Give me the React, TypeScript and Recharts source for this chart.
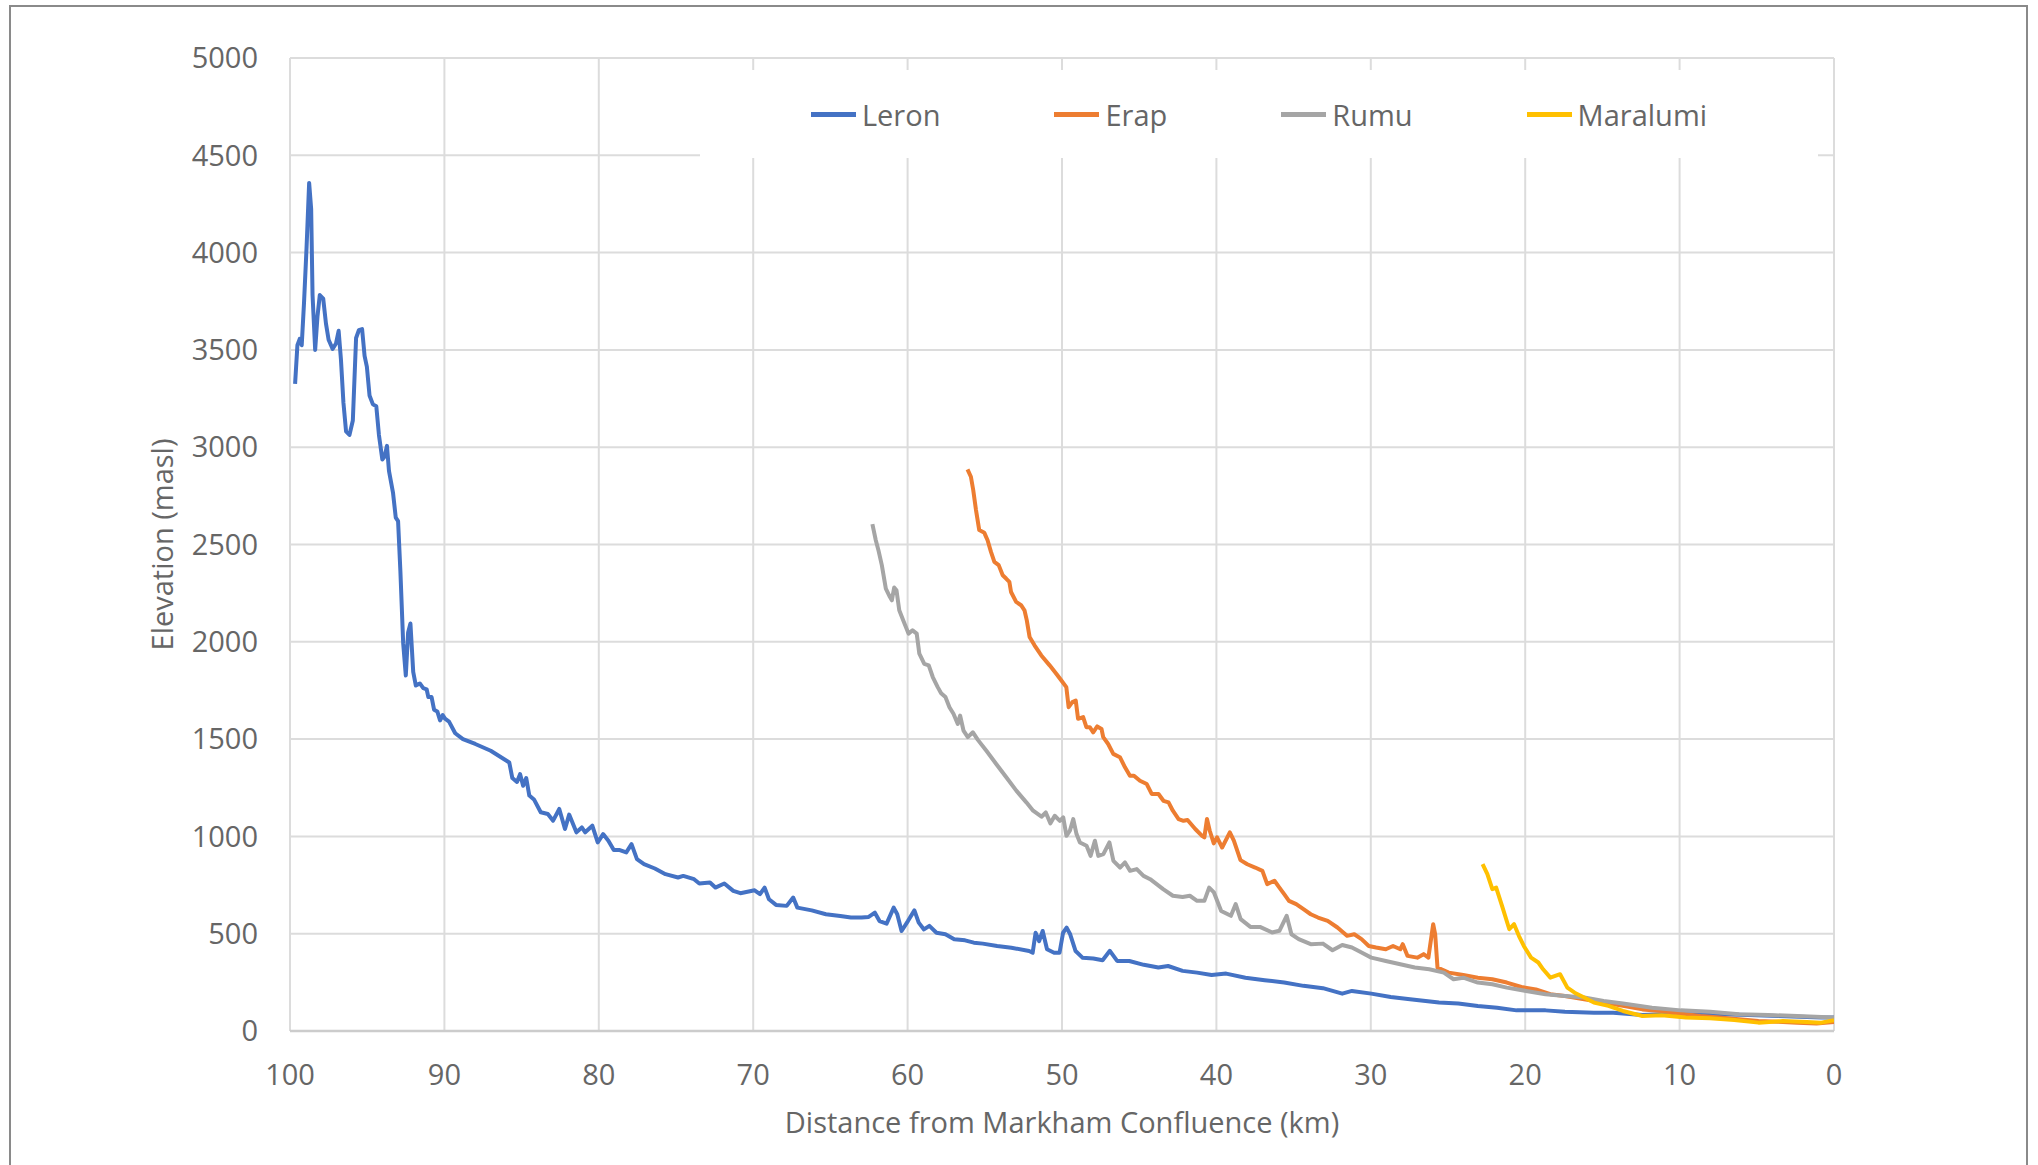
import { LineChart, Line, XAxis, YAxis, CartesianGrid, Legend } from 'recharts';

type Pt = [number, number]; // [km from confluence, elevation m]

const xTicks = [0, 10, 20, 30, 40, 50, 60, 70, 80, 90, 100];
const yTicks = [0, 500, 1000, 1500, 2000, 2500, 3000, 3500, 4000, 4500, 5000];

const seriesNames = ['Leron', 'Erap', 'Rumu', 'Maralumi'];
const seriesColors = ['#4472C4', '#ED7D31', '#A5A5A5', '#FFC000'];

const leron: Pt[] = [
  [99.67, 3325], [99.52, 3524], [99.37, 3557], [99.24, 3524], [99.09, 3745], [98.93, 4022],
  [98.76, 4358], [98.63, 4225], [98.54, 3782], [98.37, 3500], [98.22, 3672], [98.07, 3782],
  [97.85, 3764], [97.67, 3635], [97.5, 3552], [97.24, 3505], [97.02, 3533], [96.85, 3598],
  [96.7, 3450], [96.54, 3229], [96.37, 3081], [96.15, 3063], [95.93, 3137], [95.72, 3561],
  [95.54, 3601], [95.33, 3607], [95.17, 3469], [95.02, 3413], [94.85, 3266], [94.63, 3220],
  [94.41, 3210], [94.24, 3063], [94.02, 2937], [93.87, 2952], [93.72, 3007], [93.59, 2878],
  [93.33, 2767], [93.15, 2638], [93.0, 2620], [92.85, 2362], [92.67, 1993], [92.5, 1827],
  [92.35, 2048], [92.2, 2094], [92.02, 1845], [91.85, 1775], [91.59, 1786], [91.37, 1762],
  [91.15, 1756], [91.04, 1716], [90.83, 1716], [90.67, 1651], [90.46, 1642], [90.28, 1596],
  [90.11, 1623], [89.96, 1605], [89.7, 1590], [89.3, 1530], [88.8, 1500], [88.0, 1475],
  [87.0, 1440], [86.0, 1390], [85.8, 1380], [85.6, 1300], [85.3, 1280], [85.1, 1320],
  [84.9, 1260], [84.7, 1300], [84.5, 1210], [84.2, 1190], [83.76, 1124], [83.3, 1115],
  [82.96, 1081], [82.56, 1141], [82.19, 1038], [81.92, 1112], [81.45, 1021], [81.1, 1046],
  [80.88, 1021], [80.42, 1055], [80.07, 969], [79.72, 1012], [79.38, 978], [79.03, 930],
  [78.64, 930], [78.22, 918], [77.88, 960], [77.53, 883], [77.07, 857], [76.37, 835],
  [75.68, 806], [74.87, 789], [74.53, 797], [73.83, 780], [73.49, 758], [72.8, 763],
  [72.45, 737], [71.87, 758], [71.29, 720], [70.83, 708], [69.91, 723], [69.56, 703],
  [69.26, 737], [68.98, 677], [68.52, 648], [67.83, 643], [67.41, 686], [67.14, 634],
  [66.21, 620], [65.29, 600], [64.36, 591], [63.67, 583], [62.98, 583], [62.52, 586],
  [62.12, 608], [61.82, 565], [61.36, 552], [60.9, 634], [60.67, 600], [60.39, 514],
  [59.98, 565], [59.56, 620], [59.28, 557], [58.94, 522], [58.59, 540], [58.13, 505],
  [57.55, 497], [56.98, 471], [56.28, 466], [55.71, 454], [55.13, 449], [54.2, 437],
  [53.28, 428], [52.13, 411], [51.9, 402], [51.71, 505], [51.48, 462], [51.25, 514],
  [50.97, 420], [50.51, 402], [50.16, 402], [49.93, 505], [49.7, 531], [49.47, 497],
  [49.12, 411], [48.66, 376], [47.97, 373], [47.37, 364], [46.9, 412], [46.43, 360],
  [45.64, 360], [44.7, 340], [43.76, 326], [43.13, 334], [42.19, 309], [41.25, 300],
  [40.31, 288], [39.37, 295], [38.12, 274], [36.87, 261], [35.61, 249], [34.36, 232],
  [33.1, 220], [31.85, 192], [31.22, 206], [29.97, 192], [28.71, 175], [27.46, 163],
  [25.58, 146], [24.33, 141], [23.07, 129], [21.82, 120], [20.56, 106], [18.68, 106],
  [17.43, 99], [15.55, 94], [14.3, 94], [12.41, 82], [11.16, 86], [9.28, 86],
  [7.4, 86], [5.52, 82], [3.64, 77], [1.76, 72], [0.82, 69], [0, 69],
];

const erap: Pt[] = [
  [56.12, 2886], [55.9, 2848], [55.75, 2780], [55.57, 2677], [55.36, 2574], [55.03, 2560],
  [54.82, 2522], [54.6, 2462], [54.38, 2411], [54.1, 2394], [53.84, 2342], [53.62, 2325],
  [53.41, 2308], [53.3, 2256], [52.97, 2205], [52.65, 2188], [52.43, 2162], [52.28, 2110],
  [52.1, 2025], [51.78, 1982], [51.34, 1930], [50.8, 1879], [50.37, 1836], [50.04, 1801],
  [49.72, 1767], [49.57, 1664], [49.33, 1690], [49.11, 1698], [48.96, 1604], [48.63, 1613],
  [48.42, 1561], [48.2, 1561], [47.98, 1535], [47.72, 1565], [47.44, 1552], [47.33, 1510],
  [47.01, 1475], [46.68, 1424], [46.25, 1407], [45.92, 1355], [45.6, 1312], [45.34, 1312],
  [44.95, 1286], [44.51, 1269], [44.19, 1218], [43.75, 1218], [43.43, 1183], [43.1, 1175],
  [42.82, 1132], [42.45, 1089], [42.13, 1080], [41.87, 1084], [41.37, 1038], [40.93, 1003],
  [40.78, 995], [40.61, 1089], [40.43, 1029], [40.17, 964], [39.96, 995], [39.63, 943],
  [39.13, 1021], [38.87, 978], [38.44, 878], [38.0, 857], [37.49, 840], [37.02, 823],
  [36.71, 755], [36.24, 772], [35.92, 737], [35.61, 703], [35.3, 669], [34.83, 652],
  [34.36, 626], [33.89, 600], [33.42, 583], [32.79, 566], [32.16, 532], [31.54, 489],
  [31.07, 497], [30.6, 472], [30.13, 437], [29.66, 429], [29.03, 420], [28.56, 437],
  [28.09, 420], [27.93, 446], [27.62, 386], [26.99, 377], [26.58, 395], [26.27, 377],
  [25.96, 549], [25.83, 497], [25.68, 326], [24.95, 300], [24.01, 288], [23.07, 274],
  [22.13, 266], [21.19, 249], [20.25, 226], [19.31, 214], [18.37, 189], [17.43, 180],
  [16.18, 163], [14.92, 146], [13.67, 129], [12.41, 111], [11.16, 103], [9.91, 89],
  [8.65, 77], [7.4, 69], [6.15, 60], [4.89, 51], [3.64, 48], [2.38, 43], [1.13, 38], [0, 46],
];

const rumu: Pt[] = [
  [62.28, 2605], [62.06, 2522], [61.89, 2471], [61.67, 2394], [61.41, 2273], [61.15, 2231],
  [61.02, 2213], [60.87, 2279], [60.72, 2265], [60.54, 2162], [60.28, 2110], [59.94, 2042],
  [59.68, 2059], [59.41, 2042], [59.24, 1939], [58.92, 1887], [58.63, 1879], [58.37, 1819],
  [58.05, 1767], [57.83, 1736], [57.55, 1716], [57.29, 1664], [57.03, 1630], [56.75, 1578],
  [56.6, 1621], [56.38, 1544], [56.1, 1510], [55.77, 1535], [55.45, 1496], [54.91, 1441],
  [54.26, 1372], [53.61, 1304], [52.96, 1235], [52.31, 1175], [51.87, 1132], [51.33, 1101],
  [51.05, 1123], [50.75, 1067], [50.47, 1106], [50.14, 1080], [49.92, 1098], [49.71, 1003],
  [49.49, 1029], [49.27, 1089], [49.06, 1012], [48.84, 969], [48.41, 952], [48.15, 900],
  [47.87, 978], [47.65, 900], [47.32, 909], [46.93, 969], [46.67, 874], [46.24, 840],
  [45.92, 866], [45.59, 823], [45.16, 832], [44.72, 797], [44.29, 780], [43.45, 729],
  [42.82, 695], [42.19, 689], [41.72, 695], [41.25, 669], [40.78, 669], [40.47, 737],
  [40.16, 712], [39.69, 617], [39.06, 592], [38.75, 652], [38.43, 575], [37.8, 535],
  [37.18, 535], [36.39, 506], [35.92, 515], [35.45, 592], [35.14, 497], [34.67, 472],
  [33.89, 446], [33.1, 449], [32.48, 415], [31.85, 442], [31.22, 429], [30.6, 403],
  [29.97, 377], [29.03, 360], [28.09, 343], [27.15, 326], [26.21, 317], [25.27, 300],
  [24.64, 266], [24.01, 274], [23.07, 249], [22.13, 240], [21.19, 223], [19.94, 206],
  [18.68, 189], [17.43, 180], [16.18, 172], [14.92, 154], [13.67, 141], [11.79, 120],
  [9.91, 106], [8.03, 99], [6.15, 86], [4.26, 82], [2.38, 77], [0, 69],
];

const maralumi: Pt[] = [
  [22.76, 858], [22.45, 806], [22.13, 729], [21.88, 737], [21.5, 643], [21.03, 523],
  [20.72, 549], [20.41, 489], [20.09, 437], [19.62, 377], [19.15, 352], [18.84, 317],
  [18.37, 274], [17.74, 292], [17.27, 223], [16.8, 197], [16.18, 172], [15.55, 146],
  [14.61, 129], [13.67, 103], [12.41, 77], [11.16, 81], [9.6, 69], [8.03, 65],
  [6.46, 57], [4.89, 43], [3.32, 51], [1.76, 46], [0.82, 43], [0, 55],
];

const allSeries = [leron, erap, rumu, maralumi];

const toRows = (pts: Pt[]) => pts.map(([km, elev]) => ({ km, elev }));

const FONT = '"Open Sans", sans-serif';
const TEXT = '#666666';

function LegendBox() {
  return (
    <div
      style={{
        display: 'flex',
        justifyContent: 'center',
        alignItems: 'center',
        gap: 114,
        height: '100%',
        background: '#fff',
        fontFamily: FONT,
        fontSize: 29,
        color: TEXT,
      }}
    >
      {seriesNames.map((name, i) => (
        <div key={name} style={{ display: 'flex', alignItems: 'center' }}>
          <span style={{ width: 45, height: 5, background: seriesColors[i], display: 'inline-block', marginRight: 6 }} />
          <span>{name}</span>
        </div>
      ))}
    </div>
  );
}

export default function App() {
  return (
    <div style={{ position: 'absolute', left: 0, top: 0, width: 2038, height: 1165, background: '#fff', fontFamily: FONT }}>
      <div
        style={{
          position: 'absolute',
          left: 9,
          top: 5,
          width: 2019,
          height: 1160,
          border: '2px solid #8a8a8a',
          borderBottom: 'none',
          boxSizing: 'border-box',
        }}
      />
      <LineChart width={2038} height={1165} margin={{ top: 58, right: 204, bottom: 0, left: 0 }}>
        <CartesianGrid stroke="#dcdcdc" strokeWidth={2} />
        <XAxis
          type="number"
          dataKey="km"
          domain={[0, 100]}
          ticks={xTicks}
          reversed
          allowDataOverflow
          height={134}
          tickLine={false}
          tickSize={0}
          tickMargin={33}
          axisLine={{ stroke: '#cccccc', strokeWidth: 2.5 }}
          tick={{ fill: TEXT, fontSize: 29, fontFamily: FONT }}
          label={{
            value: 'Distance from Markham Confluence (km)',
            position: 'insideBottom',
            offset: 32,
            fill: TEXT,
            fontSize: 29,
            fontFamily: FONT,
          }}
        />
        <YAxis
          type="number"
          domain={[0, 5000]}
          ticks={yTicks}
          width={290}
          tickLine={false}
          axisLine={false}
          tickSize={0}
          tickMargin={32}
          tick={{ fill: TEXT, fontSize: 29, fontFamily: FONT }}
          label={{
            value: 'Elevation (masl)',
            angle: -90,
            position: 'insideLeft',
            offset: 163,
            fill: TEXT,
            fontSize: 29,
            fontFamily: FONT,
            style: { textAnchor: 'middle' },
          }}
        />
        <Legend
          layout="horizontal"
          verticalAlign="middle"
          align="center"
          width={1118}
          height={88}
          wrapperStyle={{ left: 700, top: 70, width: 1118, height: 88 }}
          content={() => <LegendBox />}
        />
        {allSeries.map((pts, i) => (
          <Line
            key={seriesNames[i]}
            data={toRows(pts)}
            dataKey="elev"
            name={seriesNames[i]}
            type="linear"
            stroke={seriesColors[i]}
            strokeWidth={4}
            strokeLinejoin="round"
            dot={false}
            activeDot={false}
            isAnimationActive={false}
          />
        ))}
      </LineChart>
    </div>
  );
}
